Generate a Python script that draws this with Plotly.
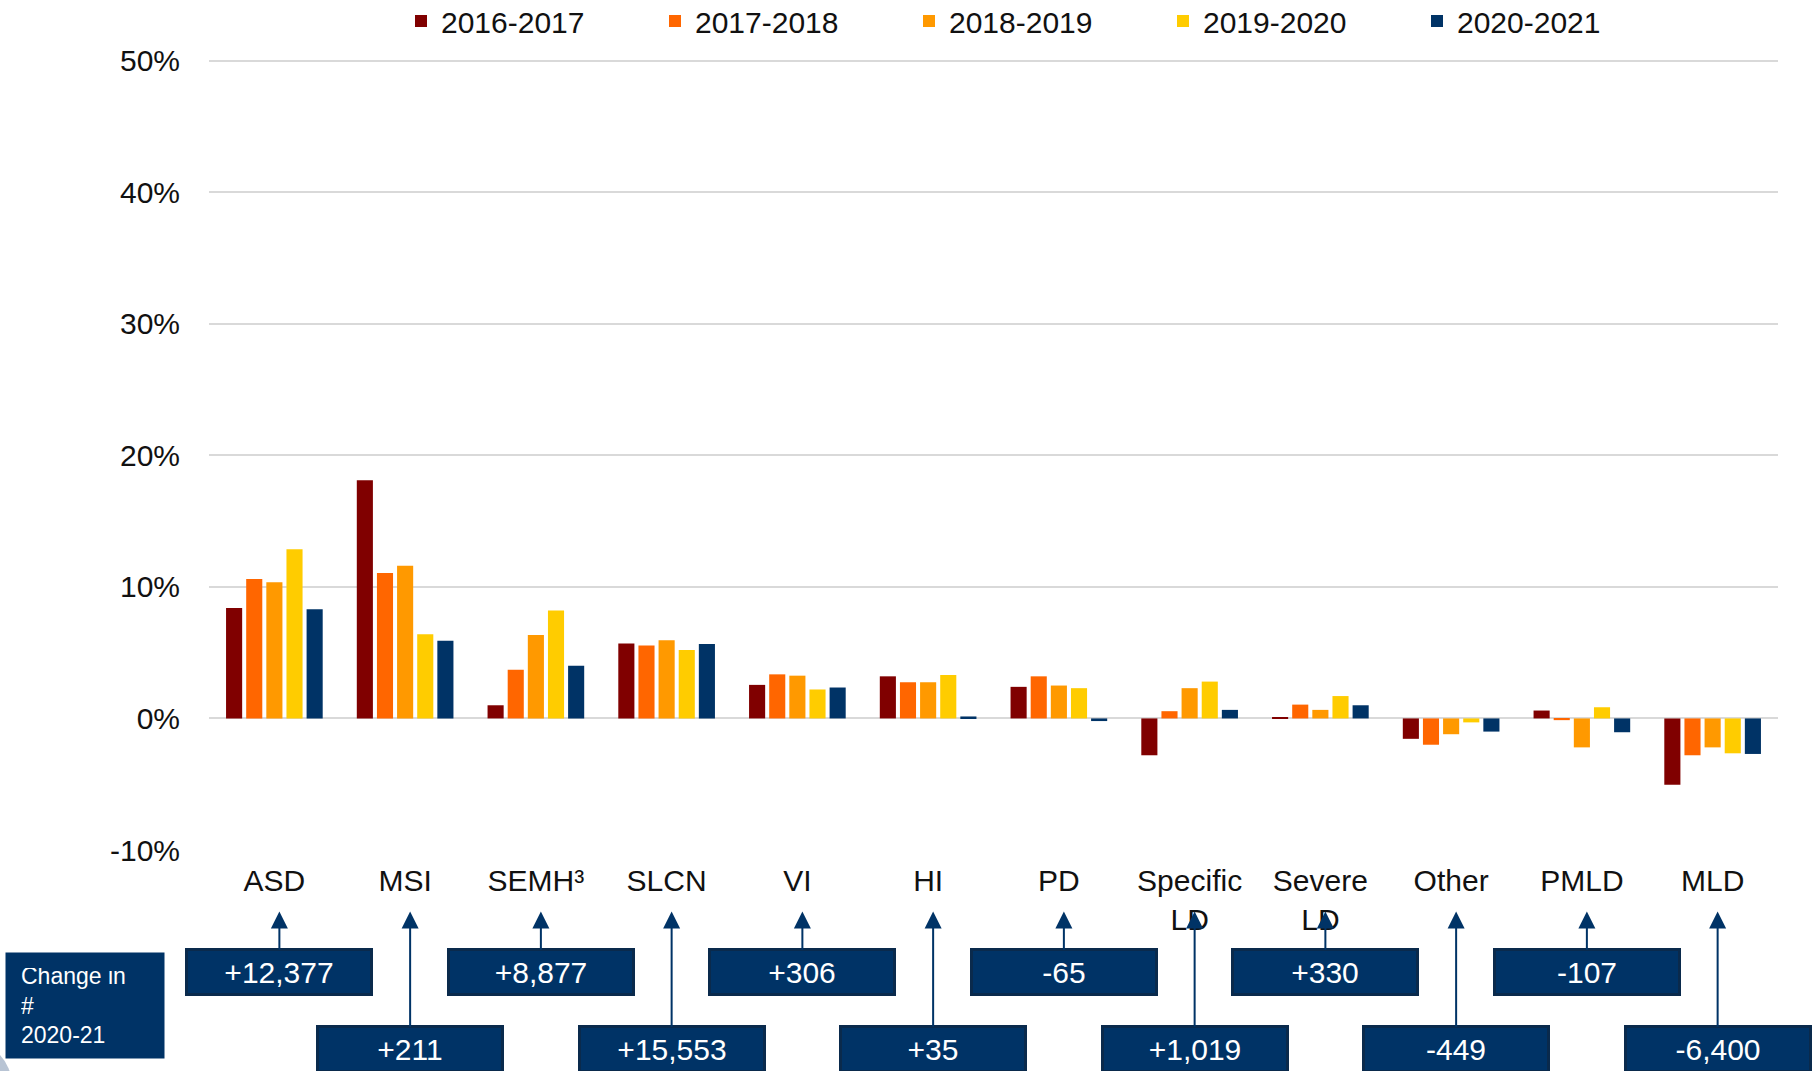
import plotly.graph_objects as go

categories = ["ASD", "MSI", "SEMH³", "SLCN", "VI", "HI", "PD",
              "Specific<br>LD", "Severe<br>LD", "Other", "PMLD", "MLD"]
series_names = ["2016-2017", "2017-2018", "2018-2019", "2019-2020", "2020-2021"]
v_2016_17 = [8.4, 18.1, 1.0, 5.7, 2.55, 3.2, 2.4, -2.8, 0.1, -1.55, 0.6, -5.05]
v_2017_18 = [10.6, 11.05, 3.7, 5.55, 3.35, 2.75, 3.2, 0.55, 1.05, -2.0, -0.13, -2.8]
v_2018_19 = [10.35, 11.6, 6.35, 5.95, 3.25, 2.75, 2.5, 2.3, 0.65, -1.2, -2.2, -2.2]
v_2019_20 = [12.85, 6.4, 8.2, 5.2, 2.2, 3.3, 2.3, 2.8, 1.7, -0.3, 0.85, -2.65]
v_2020_21 = [8.3, 5.9, 4.0, 5.65, 2.35, 0.15, -0.2, 0.65, 1.0, -1.0, -1.05, -2.7]
change_2020_21 = ["+12,377", "+211", "+8,877", "+15,553", "+306", "+35", "-65",
                  "+1,019", "+330", "-449", "-107", "-6,400"]
y_ticks = [-10, 0, 10, 20, 30, 40, 50]
y_tick_labels = ["-10%", "0%", "10%", "20%", "30%", "40%", "50%"]

colors = ["#800000", "#FF6600", "#FF9900", "#FFCC00", "#003366"]
series = [v_2016_17, v_2017_18, v_2018_19, v_2019_20, v_2020_21]

FONT = "Liberation Sans, Arial, sans-serif"
W, H = 1820, 1071
Y_RANGE = [-10, 50.12]
PX_PER_UNIT = 13.155
ML, MR = 209, 42
MB = 221.4
PH = (Y_RANGE[1] - Y_RANGE[0]) * PX_PER_UNIT
MT = H - MB - PH
PW = W - ML - MR

def px_to_paper_y(py):
    return (H - MB - py) / PH

def px_to_paper_x(px):
    return (px - ML) / PW

fig = go.Figure()
for name, vals, col in zip(series_names, series, colors):
    fig.add_trace(go.Bar(x=categories, y=vals, name=name, marker_color=col,
                         marker_line_width=0))

annotations = []
tip_y = px_to_paper_y(911)
for i, (cat, txt) in enumerate(zip(categories, change_2020_21)):
    ay = 61 if i % 2 == 0 else 138
    annotations.append(dict(
        x=cat, xref="x", y=tip_y, yref="paper", text=txt,
        showarrow=True, arrowhead=2, arrowsize=1.7, arrowwidth=2,
        arrowcolor="#003366", ax=0, ay=ay, xshift=5,
        bgcolor="#003366", bordercolor="#0a2a4c", borderwidth=3, borderpad=1,
        width=180, height=40, font=dict(family=FONT, size=30, color="white"),
    ))

annotations.append(dict(
    x=px_to_paper_x(5), xref="paper", y=px_to_paper_y(952), yref="paper",
    xanchor="left", yanchor="top", showarrow=False,
    text="Change in<br>#<br>2020-21", align="left", valign="middle",
    bgcolor="#003366", borderpad=15, width=128, height=75,
    font=dict(family=FONT, size=23, color="white"),
))

fig.update_layout(
    width=W, height=H,
    margin=dict(l=ML, r=MR, t=MT, b=MB, autoexpand=False),
    paper_bgcolor="white", plot_bgcolor="white",
    barmode="group", bargap=0.23, bargroupgap=0.2,
    font=dict(family=FONT, size=30, color="#111111"),
    legend=dict(orientation="h", xref="container", yref="container",
                x=401 / W, xanchor="left",
                y=1 - 21 / H, yanchor="middle",
                entrywidth=209, entrywidthmode="pixels",
                font=dict(family=FONT, size=30, color="#111111"),
                itemwidth=30, tracegroupgap=0),
    annotations=annotations,
    shapes=[dict(type="circle", xref="paper", yref="paper",
                 x0=px_to_paper_x(-80), x1=px_to_paper_x(12),
                 y0=px_to_paper_y(1130), y1=px_to_paper_y(1040),
                 fillcolor="#b8c4d4", line_width=0, layer="below")],
)
fig.update_yaxes(range=Y_RANGE, tickvals=y_ticks, ticktext=y_tick_labels,
                 automargin=False,
                 showgrid=True, gridcolor="#d9d9d9", gridwidth=1.5,
                 zeroline=True, zerolinecolor="#d9d9d9", zerolinewidth=1.5,
                 ticks="outside", ticklen=22, tickcolor="rgba(0,0,0,0)",
                 tickfont=dict(family=FONT, size=30, color="#111111"),
                 showline=False)
fig.update_xaxes(range=[-0.5, len(categories) - 0.5],
                 ticks="outside", ticklen=4, tickcolor="rgba(0,0,0,0)",
                 automargin=False,
                 tickfont=dict(family=FONT, size=30, color="#111111"),
                 showline=False, showgrid=False, tickangle=0)

fig.write_html("out.html", config={"displayModeBar": False},
               post_script="document.body.style.margin='0px';")
